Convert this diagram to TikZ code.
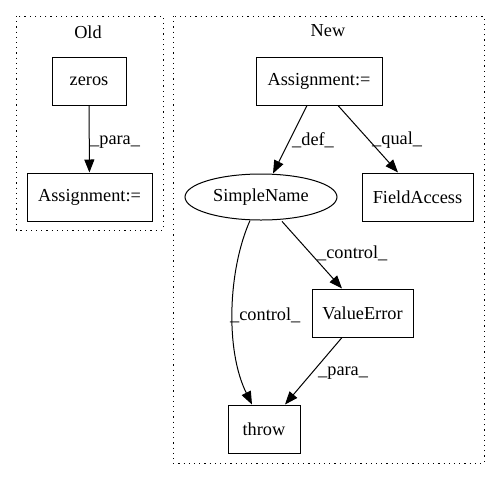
\documentclass[tikz,border=0pt]{standalone}
\usepackage{fontspec}
\setmainfont{Liberation Serif}
\usetikzlibrary{arrows.meta,shapes.geometric}
\begin{document}
\begin{tikzpicture}[x=1pt,y=-1pt,
  every node/.style={font=\fontsize{18.3}{21}\selectfont},
  box/.style={draw,line width=1pt,rectangle,minimum height=48pt,inner sep=0pt},
  ell/.style={draw,line width=1pt,ellipse,minimum width=152pt,minimum height=46pt,inner sep=0pt},
  cluster/.style={draw,line width=1pt,dash pattern=on 1.2pt off 4pt},
  edge/.style={draw,line width=1pt,-{Triangle[length=13pt,width=10pt]}},
  lbl/.style={anchor=west,inner sep=0pt}]
\useasboundingbox (0,0) rectangle (500,480);
\draw[cluster] (16,16) rectangle (163,230);
\draw[cluster] (173,16) rectangle (484,463);
\node (oldt) at (88,32) {Old};
\node (newt) at (328,31) {New};
\node[box,minimum width=74pt] (zeros) at (89,81) {zeros};
\node[box,minimum width=125pt] (asg1) at (89.5,197) {Assignment:=};
\node[box,minimum width=126pt] (asg2) at (319,81) {Assignment:=};
\node[ell] (sn) at (261,197) {SimpleName};
\node[box,minimum width=111pt] (fa) at (417.5,197) {FieldAccess};
\node[box,minimum width=101pt] (ve) at (362.5,313) {ValueError};
\node[box,minimum width=72pt] (thr) at (264,429) {throw};
\draw[edge] (zeros) -- (asg1);
\node[lbl] (l1) at (90,142) {\_para\_};
\draw[edge] ([xshift=-12pt]asg2.south) -- ([xshift=12pt]sn.north);
\node[lbl] (l2) at (292,140) {\_def\_};
\draw[edge] ([xshift=19pt]asg2.south) -- ([xshift=-19.5pt]fa.north);
\node[lbl] (l3) at (372,140) {\_qual\_};
\draw[edge] ([xshift=21pt,yshift=-0.9pt]sn.south) -- ([xshift=-20.5pt]ve.north);
\node[lbl] (l4) at (317,253) {\_control\_};
\draw[edge] ([xshift=-11pt]sn.south) .. controls (228,270) and (225,350) .. ([xshift=-12pt]thr.north);
\node[lbl] (l5) at (230,315) {\_control\_};
\draw[edge] ([xshift=-20.5pt]ve.south) -- ([xshift=21pt]thr.north);
\node[lbl] (l6) at (318,373) {\_para\_};
\end{tikzpicture}
\end{document}
